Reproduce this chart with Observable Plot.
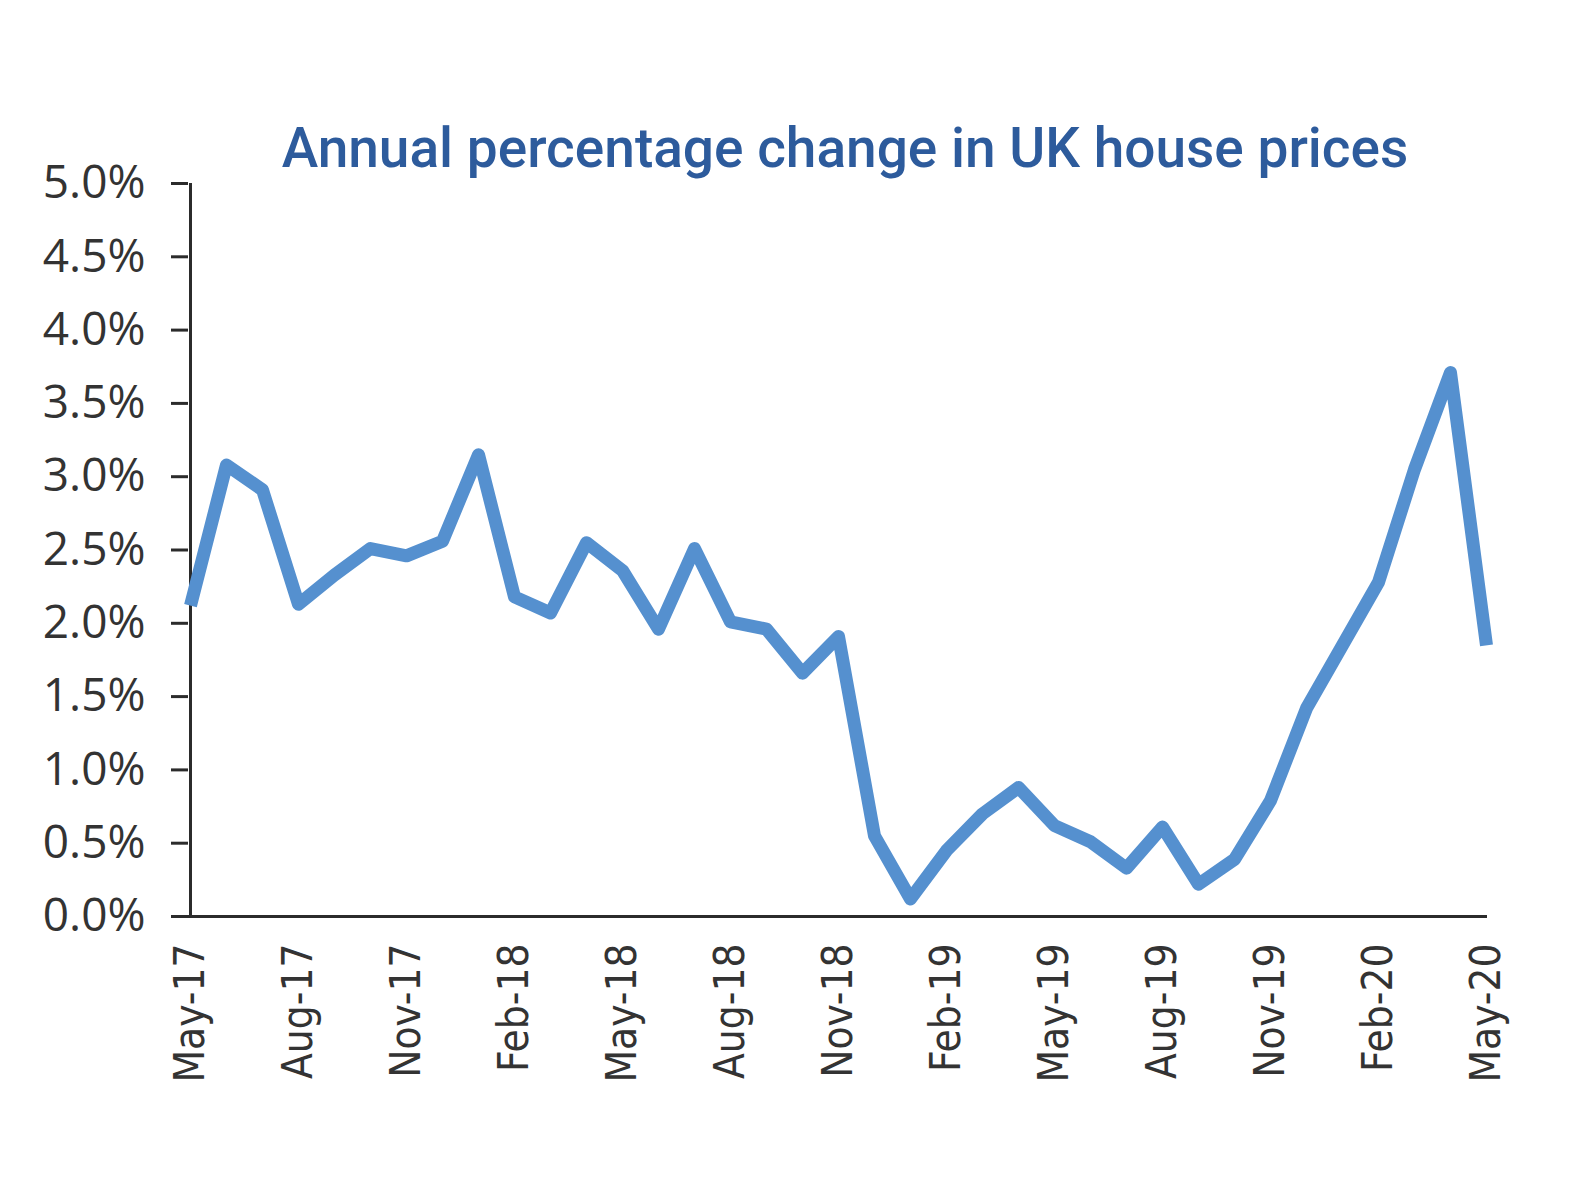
<!DOCTYPE html>
<html>
<head>
<meta charset="utf-8">
<script src="https://cdn.jsdelivr.net/npm/d3@7"></script>
<script src="https://cdn.jsdelivr.net/npm/@observablehq/plot@0.6"></script>
<style>
  html, body { margin: 0; padding: 0; background: #fff; }
  #wrap { position: relative; width: 1588px; }
  #title {
    position: absolute; left: 845px; top: 121px; transform: translateX(-50%); z-index: 2;
    font-family: Roboto, "Noto Sans", sans-serif; font-weight: 500;
    font-size: 55px; line-height: 55px; color: #2d5b9c; white-space: nowrap;
  }
  #chart { padding-top: 120px; }
  svg g[aria-label="y-axis tick label"] text { font-family: "Open Sans", sans-serif; }
  svg g[aria-label="x-axis tick label"] text { font-family: "Liberation Sans Narrow", "DejaVu Sans Condensed", sans-serif; }
</style>
</head>
<body>
<div id="wrap">
  <div id="title">Annual percentage change in UK house prices</div>
  <div id="chart"></div>
</div>
<script>
const months = ["May-17","Jun-17","Jul-17","Aug-17","Sep-17","Oct-17","Nov-17","Dec-17",
  "Jan-18","Feb-18","Mar-18","Apr-18","May-18","Jun-18","Jul-18","Aug-18","Sep-18","Oct-18","Nov-18","Dec-18",
  "Jan-19","Feb-19","Mar-19","Apr-19","May-19","Jun-19","Jul-19","Aug-19","Sep-19","Oct-19","Nov-19","Dec-19",
  "Jan-20","Feb-20","Mar-20","Apr-20","May-20"];
const values = [2.12,3.08,2.91,2.13,2.33,2.51,2.46,2.56,
  3.15,2.18,2.07,2.55,2.36,1.96,2.51,2.01,1.96,1.66,1.91,0.55,
  0.12,0.45,0.70,0.88,0.62,0.51,0.33,0.61,0.22,0.39,0.79,1.42,
  1.85,2.28,3.05,3.71,1.85];
const xTickLabels = ["May-17","Aug-17","Nov-17","Feb-18","May-18","Aug-18","Nov-18",
  "Feb-19","May-19","Aug-19","Nov-19","Feb-20","May-20"];
const yTicks = [0,0.5,1,1.5,2,2.5,3,3.5,4,4.5,5];

const data = months.map((m, i) => ({month: m, value: values[i]}));

const chart = Plot.plot({
  width: 1588,
  height: 996,
  marginLeft: 188,
  marginRight: 101,
  marginTop: 63,
  marginBottom: 200,
  style: {background: "transparent", color: "#333"},
  x: {type: "point", domain: months, padding: 0},
  y: {domain: [0, 5]},
  marks: [
    Plot.axisY({
      ticks: yTicks, tickSize: 17, tickPadding: 26, strokeWidth: 3, stroke: "#2b2b2b",
      tickFormat: d => d.toFixed(1) + "%", fontSize: 46, fill: "#333", label: null
    }),
    Plot.axisX({
      ticks: xTickLabels, tickSize: 0, tickPadding: 27, tickRotate: -90,
      fontSize: 42, fill: "#333", label: null
    }),
    Plot.ruleX([months[0]], {y1: 0, y2: 5, stroke: "#2b2b2b", strokeWidth: 3}),
    Plot.ruleY([0], {stroke: "#2b2b2b", strokeWidth: 3}),
    Plot.line(data, {x: "month", y: "value", stroke: "#5590cf", strokeWidth: 13,
      strokeLinejoin: "round", strokeLinecap: "butt"})
  ]
});
document.getElementById("chart").appendChild(chart);
</script>
</body>
</html>
